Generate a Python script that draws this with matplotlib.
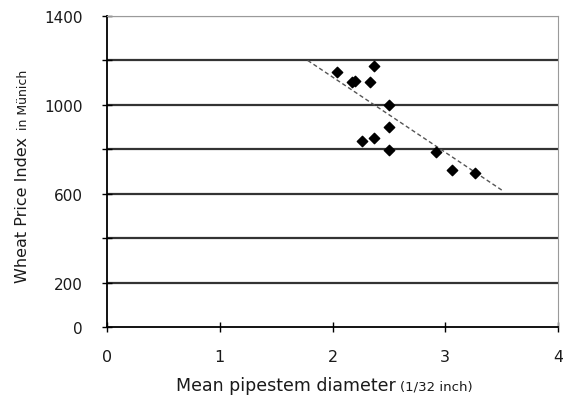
import matplotlib
matplotlib.use("Agg")
import matplotlib.pyplot as plt

plt.rcParams['font.family'] = ['DejaVu Sans']

# Data
diameter = [2.04, 2.17, 2.20, 2.33, 2.37, 2.50, 2.50, 2.26, 2.37, 2.50, 2.92, 3.06, 3.26]
price = [1147, 1105, 1108, 1105, 1174, 1000, 900, 837, 853, 795, 790, 708, 692]
trend_x = [1.78, 3.52]
trend_y = [1200, 610]

x_ticks = [0, 1, 2, 3, 4]
y_grid = [200, 400, 600, 800, 1000, 1200, 1400]
y_labels = {0: "0", 200: "200", 600: "600", 1000: "1000", 1400: "1400"}

W, H = 563, 402
fig = plt.figure(figsize=(W / 100, H / 100), dpi=100)
L, R, T, B = 107, 558, 17, 328
ax = fig.add_axes([L / W, 1 - B / H, (R - L) / W, (B - T) / H])

ax.set_xlim(0, 4)
ax.set_ylim(0, 1400)

for g in y_grid:
    ax.axhline(g, color='#333333' if g < 1400 else '#9a9a9a', lw=1.6, zorder=1)

ax.plot(trend_x, trend_y, ls=(0, (3, 2)), color='#555555', lw=1.0, zorder=2)
ax.scatter(diameter, price, marker='D', s=28, color='black', zorder=3)

ax.spines['left'].set_color('black')
ax.spines['bottom'].set_color('black')
ax.spines['left'].set_linewidth(1.3)
ax.spines['bottom'].set_linewidth(1.3)
ax.spines['top'].set_color('#9a9a9a')
ax.spines['right'].set_color('#9a9a9a')

ax.set_xticks(x_ticks)
ax.set_xticklabels([str(t) for t in x_ticks], fontsize=11.5)
yt = [0] + y_grid
ax.set_yticks(yt)
ax.set_yticklabels([y_labels.get(t, "") for t in yt], fontsize=11)
ax.tick_params(axis='both', direction='inout', length=7, width=1.0, color='black', labelcolor='#1a1a1a')
ax.tick_params(axis='x', pad=12)
ax.tick_params(axis='y', pad=14)

# x label with smaller parenthetical
fig.text(396 / W, 1 - 391 / H, "Mean pipestem diameter", ha='right', va='baseline', fontsize=12.5, color='#1a1a1a')
fig.text(400 / W, 1 - 391 / H, "(1/32 inch)", ha='left', va='baseline', fontsize=9.5, color='#1a1a1a')

# y label
fig.text(27 / W, 1 - 137 / H, "Wheat Price Index", ha='right', va='baseline', rotation=90,
         rotation_mode='anchor', fontsize=11.5, color='#1a1a1a')
fig.text(27 / W, 1 - 130 / H, "in Münich", ha='left', va='baseline', rotation=90,
         rotation_mode='anchor', fontsize=9, color='#1a1a1a')

fig.savefig("out.png", dpi=100)
